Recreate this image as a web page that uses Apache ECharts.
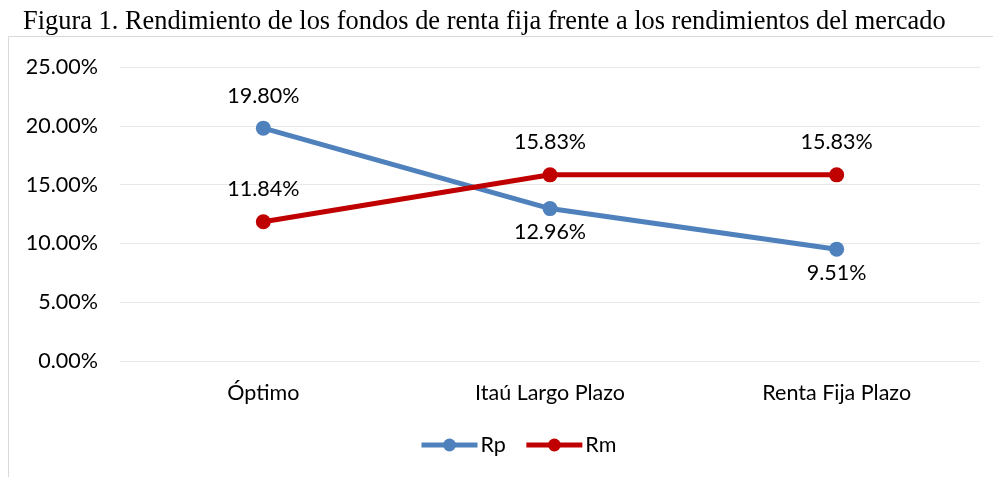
<!DOCTYPE html>
<html><head><meta charset="utf-8">
<script src="https://cdn.jsdelivr.net/npm/echarts@6/dist/echarts.min.js"></script>
<style>html,body{margin:0;padding:0;background:#fff;}#c{width:993px;height:477px;}</style>
</head><body><div id="c"></div>
<script>
const titleText = "Figura 1. Rendimiento de los fondos de renta fija frente a los rendimientos del mercado";
const categories = ["Óptimo", "Itaú Largo Plazo", "Renta Fija Plazo"];
const rpValues = [19.80, 12.96, 9.51];
const rmValues = [11.84, 15.83, 15.83];
const rpLabelPos = ["top", "bottom", "bottom"];
const rmLabelPos = ["top", "top", "top"];
const yTicks = [0, 5, 10, 15, 20, 25];

const chart = echarts.init(document.getElementById('c'), null, {renderer: 'canvas'});
const font = "Lato, 'Open Sans', sans-serif";
const fs = 21.5;
function mk(vals, pos) {
  return vals.map((v, i) => ({value: v, label: {position: pos[i], distance: pos[i] === 'top' ? 14 : 5}}));
}
chart.setOption({
  animation: false,
  backgroundColor: '#fff',
  title: {text: titleText, left: 18, top: 4, textStyle: {fontFamily: "'Liberation Serif', 'Times New Roman', serif", fontWeight: 'normal', fontSize: 26.4, color: '#000'}},
  graphic: [
    {type: 'line', shape: {x1: 8.5, y1: 36.5, x2: 993, y2: 36.5}, style: {stroke: '#d9d9d9', lineWidth: 1}},
    {type: 'line', shape: {x1: 8.5, y1: 36.5, x2: 8.5, y2: 477}, style: {stroke: '#d9d9d9', lineWidth: 1}}
  ],
  grid: {left: 120, right: 13, top: 67, bottom: 116, containLabel: false},
  legend: {
    data: ['Rp', 'Rm'], bottom: 16, left: 414, itemWidth: 56, itemHeight: 16, itemGap: 18,
    lineStyle: {width: 5},
    textStyle: {fontFamily: font, fontSize: fs, color: '#000', padding: [0, 0, 0, -2]}
  },
  xAxis: {
    type: 'category', data: categories, boundaryGap: true,
    axisLine: {show: false}, axisTick: {show: false},
    axisLabel: {fontFamily: font, fontSize: fs, color: '#000', margin: 21}
  },
  yAxis: {
    type: 'value', min: yTicks[0], max: yTicks[yTicks.length - 1], interval: 5,
    axisLine: {show: false}, axisTick: {show: false},
    splitLine: {lineStyle: {color: '#e8e8e8', width: 1}},
    axisLabel: {fontFamily: font, fontSize: fs, color: '#000', margin: 22, formatter: v => v.toFixed(2) + '%'}
  },
  series: [
    {name: 'Rp', type: 'line', data: mk(rpValues, rpLabelPos), symbol: 'circle', symbolSize: 15,
     itemStyle: {color: '#4F81BD'}, lineStyle: {color: '#4F81BD', width: 5},
     label: {show: true, fontFamily: font, fontSize: fs, color: '#000', formatter: p => p.value.toFixed(2) + '%'}},
    {name: 'Rm', type: 'line', data: mk(rmValues, rmLabelPos), symbol: 'circle', symbolSize: 15,
     itemStyle: {color: '#C00000'}, lineStyle: {color: '#C00000', width: 5},
     label: {show: true, fontFamily: font, fontSize: fs, color: '#000', formatter: p => p.value.toFixed(2) + '%'}}
  ]
});
</script></body></html>
